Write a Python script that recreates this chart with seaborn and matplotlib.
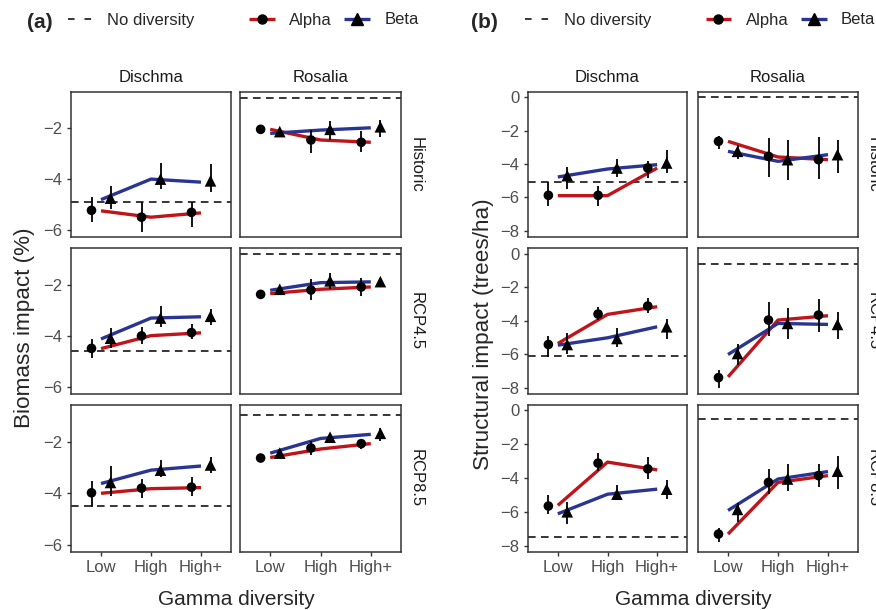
import numpy as np
import pandas as pd
import matplotlib
matplotlib.use("Agg")
import matplotlib.pyplot as plt
import seaborn as sns
from matplotlib.lines import Line2D

# ---------------- data ----------------
categories = ["Low", "High", "High+"]
sites = ["Dischma", "Rosalia"]
scenarios = ["Historic", "RCP4.5", "RCP8.5"]
# facet order: Historic-Dischma, Historic-Rosalia, RCP4.5-Dischma, RCP4.5-Rosalia, RCP8.5-Dischma, RCP8.5-Rosalia

# (a) Biomass impact (%)
bio_nodiv = [-4.92, -0.80, -4.58, -0.79, -4.51, -0.95]
bio_alpha_fit = [[-5.25, -5.50, -5.33], [-2.04, -2.46, -2.55], [-4.50, -3.99, -3.88],
                 [-2.34, -2.17, -2.08], [-4.00, -3.82, -3.78], [-2.61, -2.28, -2.07]]
bio_beta_fit = [[-4.81, -4.00, -4.12], [-2.20, -2.07, -1.98], [-4.12, -3.30, -3.25],
                [-2.21, -1.91, -1.88], [-3.62, -3.10, -2.94], [-2.44, -1.87, -1.71]]
bio_alpha_pt = [[-5.23, -5.50, -5.31], [-2.04, -2.46, -2.55], [-4.49, -4.00, -3.87],
                [-2.37, -2.20, -2.08], [-3.98, -3.80, -3.76], [-2.63, -2.24, -2.07]]
bio_alpha_lo = [[-5.69, -6.10, -5.90], [-2.10, -2.96, -2.94], [-4.85, -4.32, -4.13],
                [-2.43, -2.61, -2.44], [-4.52, -4.18, -4.09], [-2.68, -2.50, -2.27]]
bio_alpha_hi = [[-4.71, -4.92, -4.90], [-1.98, -2.07, -2.10], [-4.11, -3.65, -3.52],
                [-2.31, -1.77, -1.71], [-3.53, -3.45, -3.36], [-2.58, -1.98, -1.91]]
bio_beta_pt = [[-4.75, -4.00, -4.07], [-2.13, -2.04, -1.94], [-4.09, -3.30, -3.23],
               [-2.17, -1.84, -1.87], [-3.58, -3.10, -2.90], [-2.44, -1.82, -1.67]]
bio_beta_lo = [[-5.18, -4.39, -4.51], [-2.19, -2.46, -2.33], [-4.49, -3.65, -3.56],
               [-2.23, -2.17, -2.10], [-4.09, -3.36, -3.20], [-2.50, -1.95, -1.98]]
bio_beta_hi = [[-4.26, -3.37, -3.41], [-2.07, -1.71, -1.67], [-3.69, -2.83, -2.94],
               [-2.11, -1.55, -1.71], [-2.94, -2.70, -2.60], [-2.38, -1.70, -1.45]]

# (b) Structural impact (trees/ha)
str_nodiv = [-5.08, 0.0, -6.12, -0.60, -7.52, -0.50]
str_alpha_fit = [[-5.90, -5.90, -4.24], [-2.64, -3.58, -3.74], [-5.36, -3.62, -3.16],
                 [-7.36, -3.96, -3.70], [-5.62, -3.06, -3.52], [-7.32, -4.26, -3.86]]
str_beta_fit = [[-4.78, -4.30, -4.04], [-3.24, -3.84, -3.44], [-5.46, -5.02, -4.36],
                [-6.02, -4.16, -4.22], [-6.12, -4.96, -4.66], [-5.92, -4.06, -3.62]]
str_alpha_pt = [[-5.88, -5.88, -4.24], [-2.64, -3.54, -3.74], [-5.42, -3.60, -3.12],
                [-7.40, -3.96, -3.66], [-5.66, -3.12, -3.46], [-7.32, -4.26, -3.86]]
str_alpha_lo = [[-6.50, -6.50, -4.84], [-3.10, -4.80, -4.88], [-6.16, -3.96, -3.56],
                [-8.00, -4.90, -4.70], [-6.12, -3.60, -4.06], [-7.76, -4.92, -4.52]]
str_alpha_hi = [[-5.10, -5.30, -3.84], [-2.30, -2.44, -2.38], [-4.92, -3.16, -2.66],
                [-6.96, -2.86, -2.72], [-5.00, -2.50, -2.76], [-6.96, -3.46, -3.16]]
str_beta_pt = [[-4.70, -4.24, -3.94], [-3.24, -3.74, -3.44], [-5.42, -5.06, -4.36],
               [-5.96, -4.16, -4.22], [-6.00, -4.96, -4.66], [-5.86, -4.06, -3.60]]
str_beta_lo = [[-5.50, -4.80, -4.54], [-3.70, -4.98, -4.54], [-5.96, -5.56, -5.10],
               [-6.62, -5.10, -5.10], [-6.72, -5.32, -5.26], [-6.60, -4.76, -4.66]]
str_beta_hi = [[-4.18, -3.68, -3.14], [-2.84, -2.58, -2.54], [-4.76, -4.46, -3.90],
               [-5.42, -3.22, -3.50], [-5.40, -4.40, -4.12], [-5.46, -3.20, -2.72]]

# ---------------- style ----------------
sns.set_style("white")
plt.rcParams["font.family"] = ["Liberation Sans", "DejaVu Sans"]

W, H = 876, 610
fig = plt.figure(figsize=(W / 100, H / 100), dpi=100)

RED = "#C0141B"
BLUE = "#2A3592"
FRAME = "#333333"
TICKLAB = "#4D4D4D"
STRIP = "#1A1A1A"
DODGE = 0.19


def add_ax(x0, y0, x1, y1):
    return fig.add_axes([x0 / W, 1 - y1 / H, (x1 - x0) / W, (y1 - y0) / H])


def draw_block(cols_px, rows_px, ylim, yticks, nodiv, a_fit, b_fit, a_pt, a_lo, a_hi,
               b_pt, b_lo, b_hi):
    xpos = np.arange(len(categories), dtype=float)
    for r, scen in enumerate(scenarios):
        for c, site in enumerate(sites):
            k = r * 2 + c
            x0, x1 = cols_px[c]
            y0, y1 = rows_px[r]
            ax = add_ax(x0, y0, x1, y1)
            fit = pd.DataFrame({
                "x": np.r_[xpos, xpos],
                "y": list(a_fit[k]) + list(b_fit[k]),
                "div": ["Alpha"] * 3 + ["Beta"] * 3,
            })
            pts = pd.DataFrame({
                "x": np.r_[xpos - DODGE, xpos + DODGE],
                "y": list(a_pt[k]) + list(b_pt[k]),
                "lo": list(a_lo[k]) + list(b_lo[k]),
                "hi": list(a_hi[k]) + list(b_hi[k]),
                "div": ["Alpha"] * 3 + ["Beta"] * 3,
            })
            ax.axhline(nodiv[k], color="black", lw=1.1, ls=(0, (5, 3.5)), zorder=1)
            sns.lineplot(data=fit, x="x", y="y", hue="div",
                         palette={"Alpha": RED, "Beta": BLUE}, lw=2.4,
                         legend=False, ax=ax, zorder=2, solid_capstyle="butt")
            ax.vlines(pts["x"], pts["lo"], pts["hi"], color="black", lw=1.3, zorder=3)
            sns.scatterplot(data=pts, x="x", y="y", style="div", size="div",
                            markers={"Alpha": "o", "Beta": "^"},
                            sizes={"Alpha": 48, "Beta": 70},
                            color="black", edgecolor="none", legend=False,
                            ax=ax, zorder=4)
            ax.set_xlim(-0.6, 2.6)
            ax.set_ylim(*ylim)
            ax.set_xticks(xpos)
            ax.set_xticklabels(categories)
            ax.set_yticks(yticks)
            ax.set_xlabel("")
            ax.set_ylabel("")
            for sp in ax.spines.values():
                sp.set_visible(True)
                sp.set_color(FRAME)
                sp.set_linewidth(1.1)
            ax.tick_params(axis="both", direction="out", length=3, width=1.0,
                           color=FRAME, labelcolor=TICKLAB, labelsize=12, pad=3)
            ax.tick_params(axis="x", bottom=(r == 2), labelbottom=(r == 2))
            ax.tick_params(axis="y", left=(c == 0), labelleft=(c == 0))
            ax.grid(False)
            if r == 0:
                fig.text((x0 + x1) / 2 / W, 1 - 82 / H, site, ha="center",
                         va="baseline", fontsize=12, color=STRIP)
            if c == 1:
                fig.text((x1 + 15) / W, 1 - (y0 + y1) / 2 / H, scen, rotation=-90,
                         ha="center", va="center", fontsize=12, color=STRIP)


rows = [(92, 237), (248.5, 394), (405, 552)]
draw_block([(71, 231), (240, 401)], rows, (-6.28, -0.57), [-6, -4, -2],
           bio_nodiv, bio_alpha_fit, bio_beta_fit, bio_alpha_pt, bio_alpha_lo,
           bio_alpha_hi, bio_beta_pt, bio_beta_lo, bio_beta_hi)
draw_block([(528, 687), (698, 858)], rows, (-8.38, 0.32), [-8, -6, -4, -2, 0],
           str_nodiv, str_alpha_fit, str_beta_fit, str_alpha_pt, str_alpha_lo,
           str_alpha_hi, str_beta_pt, str_beta_lo, str_beta_hi)

# axis titles
fig.text(25 / W, 1 - 328 / H, "Biomass impact (%)", rotation=90, ha="center",
         va="center", fontsize=16.2)
fig.text(483 / W, 1 - 334 / H, "Structural impact (trees/ha)", rotation=90,
         ha="center", va="center", fontsize=16.2)
fig.text(236 / W, 1 - 605 / H, "Gamma diversity", ha="center", va="baseline", fontsize=15)
fig.text(693 / W, 1 - 605 / H, "Gamma diversity", ha="center", va="baseline", fontsize=15)

# panel tags and legends
for tag, tx, l1x, l2x in [("(a)", 27, 67.7, 249), ("(b)", 471, 525, 705.5)]:
    fig.text(tx / W, 1 - 23 / H, tag, fontweight="bold", fontsize=15,
             ha="left", va="center")
    dash = Line2D([], [], color="black", lw=1.1, ls=(0, (4.3, 6.5)))
    fig.legend(handles=[dash], labels=["No diversity"], loc="center left",
               bbox_to_anchor=(l1x / W, 1 - 20 / H), frameon=False, fontsize=12,
               handlelength=1.45, handletextpad=0.9, borderpad=0, borderaxespad=0)
    ha_ = Line2D([], [], color=RED, lw=2.4, marker="o", markerfacecolor="black",
                 markeredgecolor="black", markersize=6.5, solid_capstyle="butt")
    hb_ = Line2D([], [], color=BLUE, lw=2.4, marker="^", markerfacecolor="black",
                 markeredgecolor="black", markersize=8, solid_capstyle="butt")
    fig.legend(handles=[ha_, hb_], labels=["Alpha", "Beta"], loc="center left",
               bbox_to_anchor=(l2x / W, 1 - 20 / H), frameon=False, fontsize=12,
               ncol=2, handlelength=1.55, handletextpad=0.85, columnspacing=0.75,
               borderpad=0, borderaxespad=0)

fig.savefig("out.png", dpi=100)
